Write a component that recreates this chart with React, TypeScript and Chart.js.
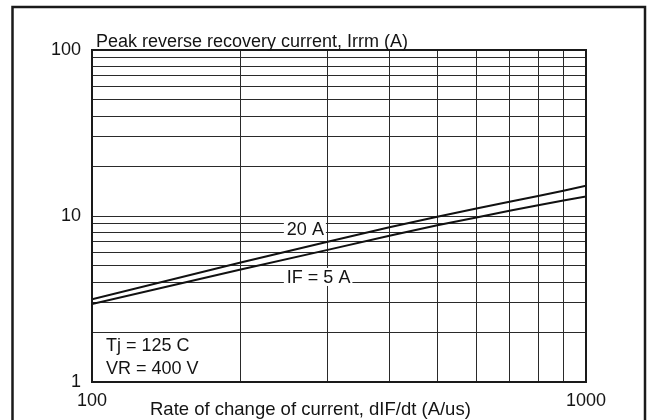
import React, { useEffect, useRef } from 'react';
import { Chart, registerables } from 'chart.js';

Chart.register(...registerables);

// ---- data ----
const rates = [100, 200, 300, 400, 500, 600, 700, 800, 900, 1000];
const irrm20A = [3.15, 5.25, 7.0, 8.55, 9.9, 11.1, 12.2, 13.2, 14.2, 15.2];
const irrm5A = [2.95, 4.76, 6.25, 7.6, 8.8, 9.8, 10.75, 11.6, 12.4, 13.1];
const xGridTicks = [100, 200, 300, 400, 500, 600, 700, 800, 900, 1000];
const yGridTicks = [1, 2, 3, 4, 5, 6, 7, 8, 9, 10, 20, 30, 40, 50, 60, 70, 80, 90, 100];
const xTickLabels = [100, 1000];
const yTickLabels = [1, 10, 100];
const xTitle = 'Rate of change of current, dIF/dt (A/us)';
const yTitle = 'Peak reverse recovery current, Irrm (A)';
const curveLabelTexts = ['20 A', 'IF = 5 A'];
const curveLabelX = [248, 248];
const curveLabelY = [7.69, 3.95];
const conditionLines = ['Tj = 125 C', 'VR = 400 V'];

const FONT_FAMILY = '"Liberation Sans", Arial, Helvetica, sans-serif';
const FONT_SIZE = 18;
const INK = '#141414';

const isOneOf = (v: number, list: number[]) => list.some((t) => Math.abs(t - v) < 1e-6 * t);

const overlayPlugin = {
  id: 'overlay',
  beforeDraw(chart: any) {
    const ctx = chart.ctx as CanvasRenderingContext2D;
    ctx.save();
    ctx.fillStyle = '#ffffff';
    ctx.fillRect(0, 0, chart.width, chart.height);
    ctx.strokeStyle = '#1a1a1a';
    ctx.lineWidth = 2.5;
    ctx.strokeRect(12.5, 7, 632.5, 440);
    ctx.restore();
  },
  afterDraw(chart: any) {
    const ctx = chart.ctx as CanvasRenderingContext2D;
    const area = chart.chartArea;
    const xs = chart.scales.x;
    const ys = chart.scales.y;
    ctx.save();
    // plot frame
    ctx.strokeStyle = '#1a1a1a';
    ctx.lineWidth = 2;
    ctx.strokeRect(area.left, area.top, area.right - area.left, area.bottom - area.top);

    ctx.font = `${FONT_SIZE}px ${FONT_FAMILY}`;
    ctx.fillStyle = INK;
    ctx.textBaseline = 'alphabetic';
    ctx.textAlign = 'left';

    // axis titles
    ctx.fillText(yTitle, area.left + 4, area.top - 3);
    ctx.save();
    ctx.font = `18.5px ${FONT_FAMILY}`;
    ctx.fillText(xTitle, area.left + 58, chart.height - 5);
    ctx.restore();

    // curve labels with white boxes
    curveLabelTexts.forEach((t, i) => {
      const px = xs.getPixelForValue(curveLabelX[i]);
      const py = ys.getPixelForValue(curveLabelY[i]);
      const w = ctx.measureText(t).width;
      ctx.fillStyle = '#ffffff';
      ctx.fillRect(px - 3, py - 15, w + 5, 18);
      ctx.fillStyle = INK;
      ctx.fillText(t, px, py);
    });

    // test conditions
    ctx.fillText(conditionLines[0], area.left + 14, area.bottom - 31);
    ctx.fillText(conditionLines[1], area.left + 14, area.bottom - 8);
    ctx.restore();
  },
};

export default function App() {
  const canvasRef = useRef<HTMLCanvasElement | null>(null);

  useEffect(() => {
    const canvas = canvasRef.current;
    if (!canvas) return;
    const chart = new Chart(canvas, {
      type: 'line',
      data: {
        datasets: [
          {
            label: 'IF = 20 A',
            data: rates.map((x, i) => ({ x, y: irrm20A[i] })),
            borderColor: '#111111',
            borderWidth: 2,
            pointRadius: 0,
            tension: 0,
            fill: false,
          },
          {
            label: 'IF = 5 A',
            data: rates.map((x, i) => ({ x, y: irrm5A[i] })),
            borderColor: '#111111',
            borderWidth: 2,
            pointRadius: 0,
            tension: 0,
            fill: false,
          },
        ],
      },
      options: {
        responsive: false,
        animation: false,
        events: [],
        layout: { padding: { left: 0, right: 63, top: 50, bottom: 0 } },
        plugins: {
          legend: { display: false },
          tooltip: { enabled: false },
          title: { display: false },
        },
        scales: {
          x: {
            type: 'logarithmic',
            min: 100,
            max: 1000,
            position: 'bottom',
            afterBuildTicks: (s: any) => {
              s.ticks = xGridTicks.map((value) => ({ value }));
            },
            afterFit: (s: any) => {
              s.height = 38;
            },
            grid: { color: '#2a2a2a', lineWidth: 1, drawTicks: false },
            border: { color: '#1a1a1a', width: 2 },
            ticks: {
              autoSkip: false,
              maxRotation: 0,
              minRotation: 0,
              padding: 8,
              color: INK,
              font: { family: FONT_FAMILY, size: FONT_SIZE },
              callback: (v: any) => (isOneOf(Number(v), xTickLabels) ? String(Math.round(Number(v))) : ''),
            },
          },
          y: {
            type: 'logarithmic',
            min: 1,
            max: 100,
            position: 'left',
            afterBuildTicks: (s: any) => {
              s.ticks = yGridTicks.map((value) => ({ value }));
            },
            afterFit: (s: any) => {
              s.width = 92;
            },
            grid: { color: '#2a2a2a', lineWidth: 1, drawTicks: false },
            border: { color: '#1a1a1a', width: 2 },
            ticks: {
              autoSkip: false,
              padding: 11,
              color: INK,
              font: { family: FONT_FAMILY, size: FONT_SIZE },
              callback: (v: any) => (isOneOf(Number(v), yTickLabels) ? String(Math.round(Number(v))) : ''),
            },
          },
        },
      },
      plugins: [overlayPlugin],
    } as any);
    return () => chart.destroy();
  }, []);

  return (
    <div style={{ position: 'fixed', left: 0, top: 0, width: 649, height: 420, background: '#fff' }}>
      <canvas ref={canvasRef} width={649} height={420} style={{ display: 'block' }} />
    </div>
  );
}
